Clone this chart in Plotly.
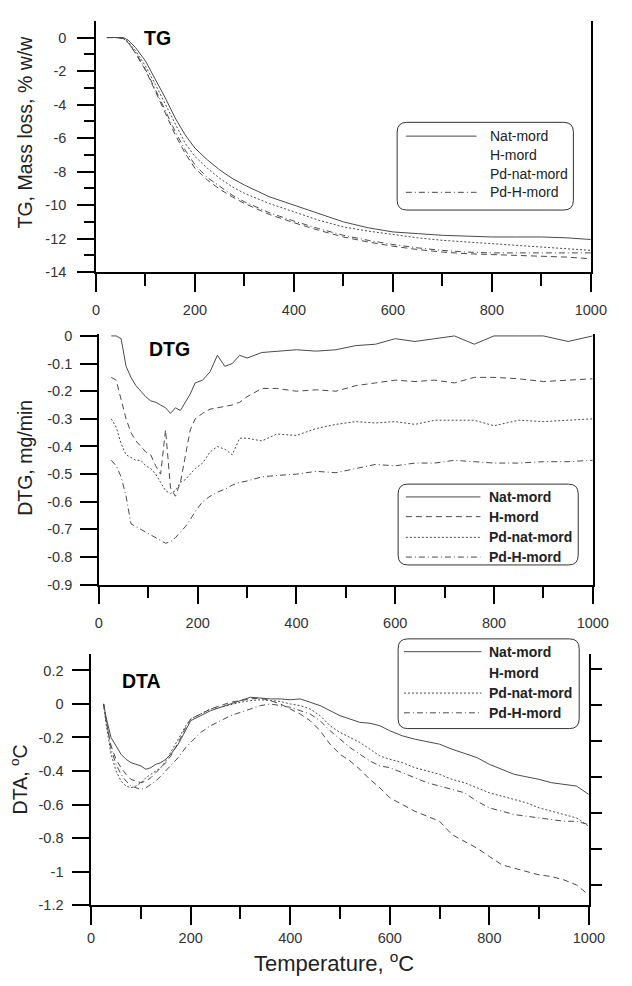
import plotly.graph_objects as go

# ---------------- DATA ----------------
series_names = ["Nat-mord", "H-mord", "Pd-nat-mord", "Pd-H-mord"]

# TG (mass loss, % w/w)
tg_T = [22, 40, 55, 65, 80, 100, 120, 140, 160, 180, 200, 225, 250, 275, 300, 350, 400, 450, 500,
        550, 600, 650, 700, 750, 800, 850, 900, 950, 1000]
tg_nat = [0, 0, 0, -0.15, -0.6, -1.4, -2.5, -3.6, -4.8, -5.8, -6.6, -7.3, -7.9, -8.4, -8.8, -9.5,
          -10.0, -10.5, -11.0, -11.35, -11.6, -11.7, -11.8, -11.85, -11.9, -11.9, -11.9, -11.95, -12.05]
tg_h = [0, 0, -0.05, -0.3, -0.95, -1.95, -3.2, -4.5, -5.8, -6.9, -7.8, -8.5, -9.05, -9.5, -9.9,
        -10.55, -11.05, -11.5, -11.9, -12.2, -12.45, -12.65, -12.8, -12.9, -12.95, -13.0, -13.05, -13.1, -13.2]
tg_pdnat = [0, 0, -0.05, -0.25, -0.8, -1.7, -2.8, -4.0, -5.2, -6.3, -7.1, -7.8, -8.4, -8.9, -9.3,
            -9.9, -10.4, -10.9, -11.3, -11.55, -11.75, -11.95, -12.1, -12.2, -12.3, -12.4, -12.5, -12.6, -12.7]
tg_pdh = [0, 0, -0.05, -0.3, -0.9, -1.9, -3.1, -4.4, -5.6, -6.7, -7.6, -8.35, -8.9, -9.4, -9.8,
          -10.45, -10.95, -11.4, -11.8, -12.1, -12.35, -12.55, -12.7, -12.8, -12.85, -12.85, -12.85, -12.85, -12.85]

# DTG (mg/min)
dtg_T = [25, 35, 45, 55, 65, 75, 85, 95, 105, 115, 125, 135, 145, 155, 165, 175, 185, 195, 210, 225,
         240, 255, 270, 285, 300, 330, 360, 400, 440, 480, 520, 560, 600, 640, 680, 720, 760, 800,
         850, 900, 950, 1000]
dtg_nat = [0, 0, -0.01, -0.11, -0.15, -0.18, -0.2, -0.22, -0.235, -0.24, -0.25, -0.26, -0.28, -0.26,
           -0.27, -0.24, -0.21, -0.17, -0.16, -0.13, -0.07, -0.11, -0.10, -0.07, -0.08, -0.06, -0.055,
           -0.05, -0.055, -0.05, -0.035, -0.03, -0.01, -0.02, -0.01, 0, -0.03, 0, 0, 0, -0.02, 0]
dtg_h = [-0.15, -0.16, -0.23, -0.30, -0.35, -0.38, -0.40, -0.42, -0.43, -0.47, -0.50, -0.34, -0.55,
         -0.58, -0.53, -0.43, -0.34, -0.30, -0.28, -0.265, -0.26, -0.255, -0.25, -0.24, -0.22, -0.19,
         -0.19, -0.20, -0.195, -0.20, -0.18, -0.17, -0.16, -0.165, -0.16, -0.17, -0.15, -0.15, -0.155,
         -0.165, -0.16, -0.155]
dtg_pdnat = [-0.30, -0.33, -0.39, -0.43, -0.44, -0.45, -0.45, -0.47, -0.48, -0.50, -0.53, -0.56, -0.57,
             -0.56, -0.53, -0.52, -0.50, -0.48, -0.46, -0.42, -0.40, -0.41, -0.43, -0.37, -0.37, -0.38,
             -0.355, -0.36, -0.335, -0.32, -0.31, -0.315, -0.31, -0.32, -0.305, -0.305, -0.305, -0.325,
             -0.305, -0.31, -0.305, -0.30]
dtg_pdh = [-0.45, -0.47, -0.51, -0.58, -0.68, -0.69, -0.70, -0.71, -0.72, -0.73, -0.74, -0.75, -0.745,
           -0.73, -0.71, -0.69, -0.665, -0.635, -0.60, -0.58, -0.565, -0.555, -0.54, -0.53, -0.525,
           -0.51, -0.505, -0.50, -0.49, -0.495, -0.48, -0.465, -0.47, -0.46, -0.46, -0.45, -0.455,
           -0.46, -0.46, -0.455, -0.455, -0.45]

# DTA (oC)
dta_T = [25, 30, 40, 50, 60, 70, 80, 90, 100, 110, 120, 130, 140, 150, 160, 175, 190, 200, 220, 240,
         260, 280, 300, 320, 340, 360, 380, 400, 420, 440, 460, 480, 500, 520, 540, 560, 580, 600,
         625, 650, 675, 700, 725, 750, 775, 800, 825, 850, 875, 900, 925, 950, 975, 1000]
dta_nat = [0.0, -0.08, -0.2, -0.25, -0.3, -0.33, -0.35, -0.36, -0.37, -0.39, -0.38, -0.36, -0.35, -0.33,
           -0.3, -0.24, -0.15, -0.1, -0.07, -0.04, -0.02, 0.0, 0.02, 0.04, 0.035, 0.03, 0.03, 0.025,
           0.03, 0.01, -0.01, -0.04, -0.07, -0.09, -0.11, -0.115, -0.13, -0.16, -0.19, -0.21, -0.225,
           -0.24, -0.27, -0.295, -0.32, -0.36, -0.39, -0.42, -0.435, -0.45, -0.47, -0.48, -0.49, -0.54]
dta_h = [0.0, -0.1, -0.25, -0.33, -0.38, -0.42, -0.45, -0.46, -0.47, -0.46, -0.44, -0.41, -0.38, -0.35,
         -0.31, -0.23, -0.14, -0.09, -0.06, -0.03, -0.01, 0.01, 0.02, 0.03, 0.035, 0.02, 0.0, -0.03,
         -0.06, -0.1, -0.16, -0.24, -0.3, -0.34, -0.39, -0.45, -0.5, -0.56, -0.6, -0.64, -0.67, -0.7,
         -0.78, -0.82, -0.86, -0.91, -0.96, -0.98, -1.0, -1.02, -1.03, -1.05, -1.08, -1.14]
dta_pdnat = [0.0, -0.12, -0.3, -0.4, -0.46, -0.49, -0.5, -0.49, -0.47, -0.44, -0.42, -0.4, -0.38, -0.34,
             -0.29, -0.21, -0.13, -0.09, -0.06, -0.03, -0.02, -0.005, 0.01, 0.02, 0.025, 0.02, 0.015,
             0.0, -0.01, -0.03, -0.07, -0.13, -0.17, -0.2, -0.23, -0.27, -0.31, -0.33, -0.35, -0.38,
             -0.4, -0.42, -0.45, -0.47, -0.5, -0.53, -0.55, -0.57, -0.59, -0.62, -0.64, -0.66, -0.68, -0.73]
dta_pdh = [0.0, -0.1, -0.27, -0.36, -0.42, -0.46, -0.49, -0.5, -0.51, -0.5, -0.48, -0.46, -0.43, -0.4,
           -0.37, -0.32, -0.26, -0.23, -0.17, -0.13, -0.1, -0.07, -0.05, -0.03, -0.01, 0.0, -0.01,
           -0.02, -0.04, -0.06, -0.1, -0.16, -0.21, -0.26, -0.3, -0.34, -0.37, -0.38, -0.41, -0.44,
           -0.47, -0.49, -0.51, -0.53, -0.58, -0.62, -0.64, -0.66, -0.67, -0.68, -0.69, -0.7, -0.7, -0.72]

# tick labels
x_tickvals = [0, 200, 400, 600, 800, 1000]
x_ticktext = ["0", "200", "400", "600", "800", "1000"]
tg_tickvals = [0, -2, -4, -6, -8, -10, -12, -14]
tg_ticktext = ["0", "-2", "-4", "-6", "-8", "-10", "-12", "-14"]
dtg_tickvals = [0, -0.1, -0.2, -0.3, -0.4, -0.5, -0.6, -0.7, -0.8, -0.9]
dtg_ticktext = ["0", "-0.1", "-0.2", "-0.3", "-0.4", "-0.5", "-0.6", "-0.7", "-0.8", "-0.9"]
dta_tickvals = [0.2, 0, -0.2, -0.4, -0.6, -0.8, -1.0, -1.2]
dta_ticktext = ["0.2", "0", "-0.2", "-0.4", "-0.6", "-0.8", "-1", "-1.2"]

# ---------------- STYLE ----------------
W, H = 632, 986
FONT = "Liberation Sans, Arial, sans-serif"
LINE_COL = "#4a4a4a"
dashes = ["solid", "6px,4px", "2px,2px", "6px,3px,1px,3px"]


def px(x):
    return x / W


def py(y):
    return 1 - y / H


fig = go.Figure()

panels = [
    ("x", "y", tg_T, [tg_nat, tg_h, tg_pdnat, tg_pdh]),
    ("x2", "y2", dtg_T, [dtg_nat, dtg_h, dtg_pdnat, dtg_pdh]),
    ("x3", "y3", dta_T, [dta_nat, dta_h, dta_pdnat, dta_pdh]),
]
for xa, ya, T, ys in panels:
    for name, yv, d in zip(series_names, ys, dashes):
        fig.add_trace(go.Scatter(x=T, y=yv, mode="lines", name=name, xaxis=xa, yaxis=ya,
                                 showlegend=False,
                                 line=dict(color=LINE_COL, width=1, dash=d)))
# empty trace to carry the right-hand DTA axis
fig.add_trace(go.Scatter(x=[None], y=[None], xaxis="x3", yaxis="y4", showlegend=False,
                         mode="lines"))

tickfont = dict(family=FONT, size=14.5, color="#333")
common_ax = dict(showgrid=False, zeroline=False, showline=True, linecolor="black", linewidth=1.5,
                 ticks="outside", tickcolor="black", tickwidth=1.5, tickfont=tickfont)

xcommon = dict(common_ax, range=[0, 1000], tickvals=x_tickvals, ticktext=x_ticktext, ticklen=18,
               ticklabelstandoff=6,
               minor=dict(tickvals=[100, 300, 500, 700, 900], ticklen=12, ticks="outside",
                          tickcolor="black", tickwidth=1.5))

fig.update_layout(
    width=W, height=H, margin=dict(l=0, r=0, t=0, b=0),
    paper_bgcolor="white", plot_bgcolor="white",
    font=dict(family=FONT, color="#222"),
    xaxis=dict(xcommon, domain=[px(95), px(606)], anchor="y"),
    yaxis=dict(common_ax, domain=[py(270), py(15)], range=[-14, 1], anchor="x",
               tickvals=tg_tickvals, ticktext=tg_ticktext, ticklen=17, mirror=True,
               ticklabelstandoff=8,
               minor=dict(tickvals=[-1, -3, -5, -7, -9, -11, -13], ticklen=10, ticks="outside",
                          tickcolor="black", tickwidth=1.5)),
    xaxis2=dict(xcommon, domain=[px(98), px(608)], anchor="y2"),
    yaxis2=dict(common_ax, domain=[py(587), py(333)], range=[-0.9, 0.006], anchor="x2",
                tickvals=dtg_tickvals, ticktext=dtg_ticktext, ticklen=17, mirror=True,
                ticklabelstandoff=5),
    xaxis3=dict(xcommon, domain=[px(90), px(604)], anchor="y3", ticklabelstandoff=1),
    yaxis3=dict(common_ax, domain=[py(912), py(657)], range=[-1.2, 0.3], anchor="x3",
                tickvals=dta_tickvals, ticktext=dta_ticktext, ticklen=17, ticklabelstandoff=6),
    yaxis4=dict(showgrid=False, zeroline=False, showline=True, linecolor="black", linewidth=1.5,
                overlaying="y3", side="right", anchor="x3", range=[-0.545, 6.436],
                tickvals=[0, 1, 2, 3, 4, 5, 6], ticks="outside", ticklen=11, tickwidth=1.5,
                tickcolor="black", showticklabels=False),
)

# ---------------- TEXT ----------------
ann = []
title_font = dict(family=FONT, size=19.5, color="black")
ann.append(dict(text="<b>TG</b>", x=px(158), y=py(32), font=title_font))
ann.append(dict(text="<b>DTG</b>", x=px(171), y=py(348), font=title_font))
ann.append(dict(text="<b>DTA</b>", x=px(142), y=py(685), font=title_font))

axt_font = dict(family=FONT, size=19.5, color="#222")
ann.append(dict(text="TG, Mass loss, % w/w", x=px(22), y=py(128), textangle=-90, font=axt_font))
ann.append(dict(text="DTG, mg/min", x=px(22), y=py(458), textangle=-90, font=axt_font))
ann.append(dict(text="DTA, <sup>o</sup>C", x=px(15), y=py(785), textangle=-90, font=axt_font))
ann.append(dict(text="Temperature, <sup>o</sup>C", x=px(341), y=py(986), yanchor="bottom",
                font=dict(family=FONT, size=22, color="#222")))

shapes = []


def rounded_box(x0, y0, x1, y1, r=10):
    pts = f"M {px(x0 + r)},{py(y0)} L {px(x1 - r)},{py(y0)} Q {px(x1)},{py(y0)} {px(x1)},{py(y0 + r)} " \
          f"L {px(x1)},{py(y1 - r)} Q {px(x1)},{py(y1)} {px(x1 - r)},{py(y1)} " \
          f"L {px(x0 + r)},{py(y1)} Q {px(x0)},{py(y1)} {px(x0)},{py(y1 - r)} " \
          f"L {px(x0)},{py(y0 + r)} Q {px(x0)},{py(y0)} {px(x0 + r)},{py(y0)} Z"
    return dict(type="path", path=pts, xref="paper", yref="paper",
                line=dict(color="#333", width=1), fillcolor="rgba(0,0,0,0)")


# legend definitions: box, sample x-range, text x, row y's, which samples are drawn, bold
legends = [
    dict(box=(406, 118, 588, 207), sx=(415, 488), tx=500, rows=[132, 151, 170, 189],
         draw=[True, False, False, True], bold=False),
    dict(box=(407, 485, 593, 567), sx=(415, 492), tx=499, rows=[498, 518, 539, 559],
         draw=[True, True, True, True], bold=True),
    dict(box=(407, 642, 594, 733), sx=(413, 493), tx=499, rows=[655, 677, 697, 717],
         draw=[True, False, True, True], bold=True),
]
for lg in legends:
    shapes.append(rounded_box(*lg["box"]))
    for name, yrow, d, dr in zip(series_names, lg["rows"], dashes, lg["draw"]):
        if dr:
            shapes.append(dict(type="line", xref="paper", yref="paper",
                               x0=px(lg["sx"][0]), x1=px(lg["sx"][1]), y0=py(yrow), y1=py(yrow),
                               line=dict(color=LINE_COL, width=1, dash=d)))
        txt = f"<b>{name}</b>" if lg["bold"] else name
        ann.append(dict(text=txt, x=px(lg["tx"]), y=py(yrow), xanchor="left",
                        font=dict(family=FONT, size=14, color="#222")))

for a in ann:
    a.setdefault("xref", "paper")
    a.setdefault("yref", "paper")
    a.setdefault("showarrow", False)
    a.setdefault("xanchor", "center")
    a.setdefault("yanchor", "middle")
fig.update_layout(annotations=ann, shapes=shapes)

fig.write_html("out.html")
